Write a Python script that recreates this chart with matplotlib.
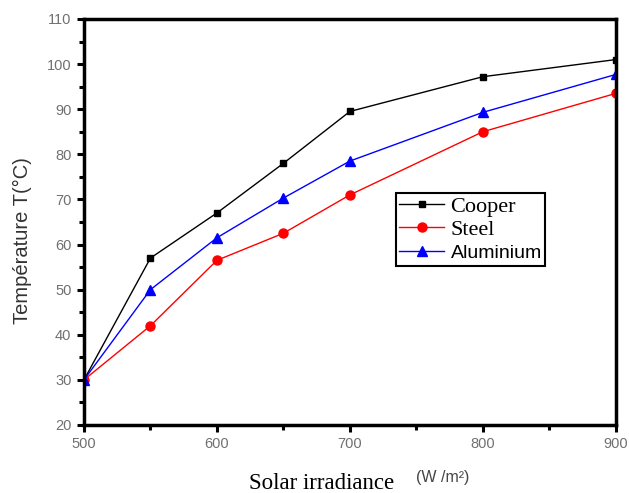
import numpy as np
import matplotlib
matplotlib.use("Agg")
import matplotlib.pyplot as plt
from matplotlib.ticker import MultipleLocator

irradiance = [500, 550, 600, 650, 700, 800, 900]
t_cooper = [30, 57, 67, 78, 89.5, 97.2, 101]
t_steel = [30, 42, 56.5, 62.5, 71, 85, 93.5]
t_alu = [30, 50, 61.5, 70.3, 78.5, 89.3, 97.7]
labels = ["Cooper", "Steel", "Aluminium"]

fig = plt.figure(figsize=(6.29, 4.93), dpi=100)
ax = fig.add_axes([0.1335, 0.138, 0.8455, 0.8235])

ax.plot(irradiance, t_cooper, "-s", color="black", lw=1, ms=5, label=labels[0])
ax.plot(irradiance, t_steel, "-o", color="red", lw=1, ms=6.5, label=labels[1])
ax.plot(irradiance, t_alu, "-^", color="blue", lw=1, ms=7.5, label=labels[2])

ax.set_xlim(500, 900)
ax.set_ylim(20, 110)
ax.xaxis.set_major_locator(MultipleLocator(100))
ax.xaxis.set_minor_locator(MultipleLocator(50))
ax.yaxis.set_major_locator(MultipleLocator(10))
ax.yaxis.set_minor_locator(MultipleLocator(5))
ax.tick_params(which="both", direction="out", width=2.2, colors="black",
               labelcolor="#707070", top=False, right=False)
ax.tick_params(which="major", length=5, pad=4)
ax.tick_params(which="minor", length=3.5)
for lab in ax.get_xticklabels() + ax.get_yticklabels():
    lab.set_family("Liberation Sans")
    lab.set_fontsize(10.5)
for sp in ax.spines.values():
    sp.set_linewidth(2.5)

# axis titles placed by hand: the x unit sits raised to the right
fig.text(0.035, 0.513, "Température T(°C)", fontsize=14.5, family="Liberation Sans",
         color="#333333", rotation=90, ha="center", va="center")
fig.text(0.512, 0.008, "Solar irradiance", fontsize=16.5, family="Liberation Serif",
         ha="center", va="baseline")
fig.text(0.704, 0.032, "(W /m²)", fontsize=11.5, family="Liberation Sans",
         color="#444444", ha="center", va="center")

leg = ax.legend(loc="upper left", bbox_to_anchor=(0.587, 0.571),
                borderaxespad=0, fancybox=False, edgecolor="black",
                framealpha=1, handlelength=2.0, handletextpad=0.3,
                labelspacing=0.12, borderpad=0.15, fontsize=16)
leg.get_frame().set_linewidth(1.5)
txt = leg.get_texts()
txt[0].set_family("Liberation Serif")
txt[1].set_family("Liberation Serif")
txt[2].set_family("Liberation Sans"); txt[2].set_fontsize(14)

fig.savefig("out.png", dpi=100)
